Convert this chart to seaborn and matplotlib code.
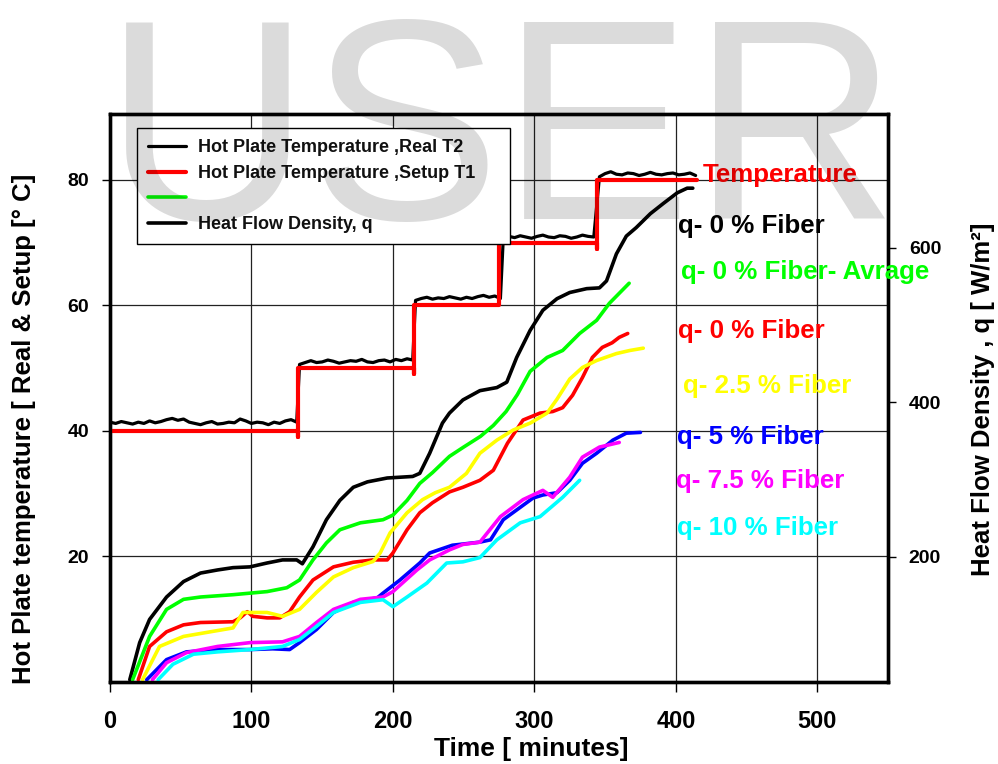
import matplotlib
matplotlib.use("Agg")
import matplotlib.pyplot as plt
import seaborn as sns

# ---------------- data ----------------
# Hot plate temperature, real T2 (left axis, deg C)
t2_time = [0, 4, 8, 12, 16, 20, 24, 28, 32, 36, 40, 44, 48, 52, 56, 60, 64, 68, 72, 76,
           80, 84, 88, 92, 96, 100, 104, 108, 112, 116, 120, 124, 128, 132,
           134, 138, 142, 146, 150, 154, 158, 162, 166, 170, 174, 178, 182, 186, 190, 194,
           198, 202, 206, 210, 214,
           216, 220, 224, 228, 232, 236, 240, 244, 248, 252, 256, 260, 264, 268, 272, 276,
           278, 282, 286, 290, 294, 298, 302, 306, 310, 314, 318, 322, 326, 330, 334, 338, 342,
           346, 350, 354, 358, 362, 366, 370, 374, 378, 382, 386, 390, 394, 398, 402, 406, 410, 414]
t2_temp = [41.4, 41.2, 41.5, 41.3, 41.1, 41.4, 41.2, 41.6, 41.3, 41.5, 41.8, 42.0, 41.7, 41.9,
           41.4, 41.2, 41.0, 41.3, 41.5, 41.1, 41.2, 41.4, 41.3, 41.9, 41.6, 41.2, 41.4, 41.3,
           41.0, 41.4, 41.2, 41.6, 41.8, 41.4,
           50.6, 50.9, 51.2, 50.9, 51.0, 51.3, 51.1, 50.8, 51.0, 51.2, 51.1, 51.4, 51.0, 50.9,
           51.2, 51.3, 51.0, 51.4, 51.2, 51.5, 51.3,
           60.8, 61.1, 61.3, 61.0, 61.2, 61.1, 61.4, 61.2, 61.0, 61.3, 61.1, 61.4, 61.6, 61.3,
           61.5, 61.1,
           70.6, 71.0, 70.8, 71.1, 70.9, 70.7, 71.0, 71.2, 70.9, 70.8, 71.1, 71.0, 70.7, 70.9,
           71.2, 71.0, 70.9,
           80.5, 81.0, 81.3, 80.9, 80.8, 81.1, 81.0, 80.7, 80.9, 81.2, 80.9, 80.8, 81.0, 81.1,
           80.8, 80.9, 81.1, 80.7]

# Hot plate temperature, setup T1 (step profile)
t1_time = [0, 133, 133, 133, 215, 215, 215, 275, 275, 275, 344, 344, 344, 415]
t1_temp = [40, 40, 39, 50, 50, 49, 60, 60, 69, 70, 70, 69, 80, 80]

# Heat flow density q (right axis, W/m2)
q0_time = [14, 21, 28, 40, 52, 64, 76, 87, 99, 111, 122, 132, 136, 143.5, 153, 162.5, 172,
           182, 196, 214, 219, 226, 235, 240, 249.5, 261.5, 273.5, 280.5, 287.5, 297, 306,
           316, 325, 337, 346, 351, 358, 365, 372, 382, 391, 401, 408, 412]
q0_val = [41, 89, 119, 148, 168, 179, 183, 186, 187, 192, 196, 196, 191, 213, 248, 273, 290,
          297, 302, 304, 308, 334, 373, 386, 403, 415, 419, 426, 458, 493, 519,
          534, 542, 547, 548, 557, 592, 615, 626, 644, 657, 671, 677, 677]

qavg_time = [16, 28, 40, 52, 64, 87, 99, 111, 125, 134, 143.5, 153, 162.5, 177, 193, 200,
             210, 219, 228, 240, 250, 262, 271, 280, 288, 297, 309, 320, 332, 344, 353, 360, 367]
qavg_val = [41, 97, 132, 145, 148, 151, 153, 155, 160, 170, 196, 218, 235, 244, 248, 254,
            273, 295, 309, 330, 342, 356, 370, 388, 410, 440, 458, 467, 489, 506, 528, 541, 554]

qr_time = [20, 28, 40, 52, 64, 87, 92, 97, 101, 111, 120, 127, 134, 143.5, 158, 172, 186,
           196, 200, 210, 219, 228, 240, 249.5, 261.5, 271, 281, 292, 304, 313, 320, 327,
           334, 341, 348, 355, 360, 366]
qr_val = [41, 84, 103, 112, 115, 116, 121, 129, 123, 121, 121, 129, 148, 170, 187, 193, 196,
          196, 205, 235, 257, 270, 284, 290, 299, 312, 347, 377, 386, 388, 393, 409,
          432, 458, 471, 477, 484, 489]

q25_time = [23, 35, 52, 71, 87, 94, 101, 111, 122, 134, 146, 158, 172, 186, 191, 198, 210,
            221, 230, 240, 252, 261.5, 273.5, 285, 297, 309, 316, 325, 334, 344, 358, 367.5, 377]
q25_val = [41, 84, 97, 103, 108, 128, 128, 128, 123, 132, 154, 174, 186, 194, 205, 231, 257,
           274, 283, 290, 308, 334, 351, 364, 373, 386, 404, 430, 445, 454, 463, 467, 470]

q5_time = [26, 40, 54, 76, 99, 115, 127, 134, 146, 158, 172, 189, 193, 205, 219, 226, 242,
           261.5, 269, 278, 290, 299, 306, 316, 325, 334, 344, 355.5, 365, 375]
q5_val = [41, 67, 77, 80, 80, 81, 80, 89, 106, 128, 141, 147, 153, 170, 192, 205, 215,
          219, 222, 248, 264, 276, 280, 283, 299, 321, 334, 351, 360, 361]

q75_time = [30, 40, 54, 76, 99, 122, 134, 146, 158, 177, 193, 200, 217, 226, 240, 249.5,
            261.5, 276, 292, 306, 313, 325, 334, 346, 360]
q75_val = [41, 63, 76, 84, 89, 90, 97, 115, 132, 145, 148, 155, 183, 196, 209, 216,
           219, 252, 274, 286, 277, 303, 329, 342, 348]

q10_time = [34, 44.5, 59, 76, 99, 122, 134, 146, 158, 177, 193, 200, 210, 224, 238, 249.5,
            261.5, 273.5, 290, 304, 320, 332]
q10_val = [41, 61, 74, 77, 80, 84, 93, 110, 128, 141, 144.5, 135.5, 148, 166, 192, 193.5,
           199, 222, 244, 252, 277, 299]

x_ticks = [0, 100, 200, 300, 400, 500]
left_ticks = [20, 40, 60, 80]
right_ticks = [200, 400, 600]

legend_labels = ["Hot Plate Temperature ,Real T2", "Hot Plate Temperature ,Setup T1", "",
                 "Heat Flow Density, q"]

series_labels = ["q- 0 % Fiber", "q- 0 % Fiber- Avrage", "q- 0 % Fiber", "q- 2.5 % Fiber",
                 "q- 5 % Fiber", "q- 7.5 % Fiber", "q- 10 % Fiber"]

# ---------------- style ----------------
sns.set_theme(style="white")
plt.rcParams["font.family"] = ["Liberation Sans", "DejaVu Sans"]
plt.rcParams["font.weight"] = "bold"
plt.rcParams["axes.labelweight"] = "bold"

fig = plt.figure(figsize=(9.98, 7.64), dpi=100)
fig.patch.set_facecolor("white")
ax = fig.add_axes([0.1102, 0.1073, 0.7796, 0.7435])
ax2 = ax.twinx()

# temperature lines (left axis)
sns.lineplot(x=t2_time, y=t2_temp, ax=ax, color="black", lw=2.3, sort=False,
             estimator=None, zorder=3)
sns.lineplot(x=t1_time, y=t1_temp, ax=ax, color="#ff0000", lw=3.0, sort=False,
             estimator=None, zorder=4)

# heat flow lines (right axis)
q_series = [
    (q0_time, q0_val, "#000000"),
    (qavg_time, qavg_val, "#00ff00"),
    (qr_time, qr_val, "#ff0000"),
    (q25_time, q25_val, "#ffff00"),
    (q5_time, q5_val, "#0000ff"),
    (q75_time, q75_val, "#ff00ff"),
    (q10_time, q10_val, "#00ffff"),
]
for tt, qq, col in q_series:
    sns.lineplot(x=tt, y=qq, ax=ax2, color=col, lw=2.6, sort=False, estimator=None)

# axes limits / ticks
ax.set_xlim(0, 550)
ax.set_ylim(0, 90.5)
ax2.set_ylim(38, 773)
ax.set_xticks(x_ticks)
ax.set_yticks(left_ticks)
ax2.set_yticks(right_ticks)

ax.grid(True, color="#222222", lw=0.9)
ax2.grid(False)
ax.set_axisbelow(True)

for a in (ax, ax2):
    for s in a.spines.values():
        s.set_color("black")
        s.set_linewidth(2.4)

ax.tick_params(axis="x", bottom=True, direction="out", length=7, width=1.0, color="black",
               pad=13, labelsize=17, labelcolor="black")
ax.tick_params(axis="y", left=True, direction="out", length=6, width=1.0, color="black",
               pad=9, labelsize=14, labelcolor="black")
ax2.tick_params(axis="y", right=True, direction="out", length=6, width=1.0, color="black",
                pad=9, labelsize=14, labelcolor="black")

for lbl in ax.get_xticklabels() + ax.get_yticklabels() + ax2.get_yticklabels():
    lbl.set_fontweight("bold")

# axis labels
ax.set_xlabel("Time [ minutes]", fontsize=19, fontweight="bold", color="black")
ax.xaxis.set_label_coords(0.542, -0.118)
ax.xaxis.label.set_va("center")

ax.set_ylabel("Hot Plate temperature [ Real & Setup [° C]", fontsize=18.5,
              fontweight="bold", color="black")
ax.yaxis.set_label_coords(-0.111, 0.445)
ax.yaxis.label.set_va("center")

ax2.set_ylabel("Heat Flow Density , q [ W/m²]", fontsize=18.5, fontweight="bold",
               color="black", rotation=90)
ax2.yaxis.set_label_coords(1.122, 0.497)
ax2.yaxis.label.set_va("center")

# legend built from the plotted lines
h_t2, h_t1 = ax.lines[0], ax.lines[1]
h_avg, h_q = ax2.lines[1], ax2.lines[0]
leg = ax2.legend([h_t2, h_t1, h_avg, h_q], legend_labels, loc="upper left",
                 bbox_to_anchor=(0.0347, 0.767, 0.4794, 0.208), mode="expand",
                 borderaxespad=0, frameon=True, fancybox=False,
                 edgecolor="black", facecolor="white", framealpha=1,
                 handlelength=2.1, handletextpad=0.65, labelspacing=0.47,
                 borderpad=0.62, prop={"weight": "bold", "size": 13})
leg.get_frame().set_linewidth(1.0)
for txt in leg.get_texts():
    txt.set_color("#111111")

# series annotations (right side)
ann = [
    ("Temperature", "#ff0000", 0.7622, 0.8808),
    (series_labels[0], "#000000", 0.7301, 0.7910),
    (series_labels[1], "#00ff00", 0.7339, 0.7095),
    (series_labels[2], "#ff0000", 0.7301, 0.6056),
    (series_labels[3], "#ffff00", 0.7365, 0.5088),
    (series_labels[4], "#0000ff", 0.7288, 0.4190),
    (series_labels[5], "#ff00ff", 0.7275, 0.3415),
    (series_labels[6], "#00ffff", 0.7288, 0.2588),
]
for text, col, xf, yf in ann:
    ax2.text(xf, yf, text, color=col, fontsize=18.6, fontweight="bold",
             transform=ax2.transAxes, ha="left", va="baseline", clip_on=False, zorder=6)

# watermark
fig.text(0.1036, 0.7134, "USER", fontsize=206, family="Liberation Sans",
         fontweight="normal", color=(0, 0, 0, 0.14), ha="left", va="baseline", zorder=10)

fig.savefig("out.png", dpi=100, facecolor="white")
